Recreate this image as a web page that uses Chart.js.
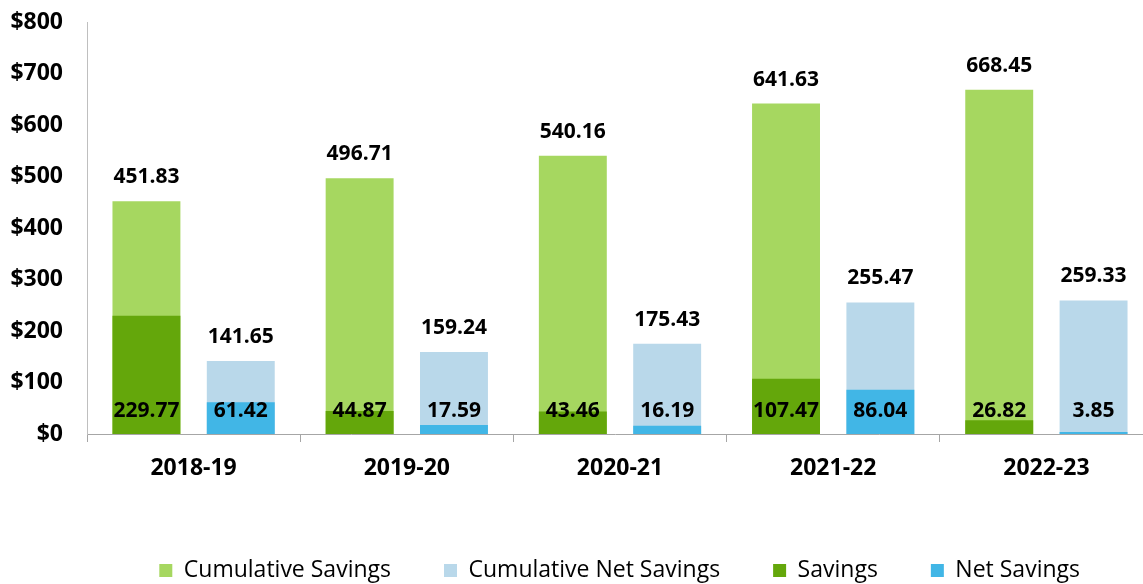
<!DOCTYPE html>
<html>
<head>
<meta charset="utf-8">
<script src="https://cdn.jsdelivr.net/npm/chart.js@4"></script>
<style>
  html, body { margin: 0; padding: 0; background: #fff; }
  #wrap { width: 1143px; height: 584px; }
</style>
</head>
<body>
<div id="wrap"><canvas id="myChart"></canvas></div>
<script>
var years = ['2018-19', '2019-20', '2020-21', '2021-22', '2022-23'];
var cumulativeSavings = [451.83, 496.71, 540.16, 641.63, 668.45];
var cumulativeNetSavings = [141.65, 159.24, 175.43, 255.47, 259.33];
var savings = [229.77, 44.87, 43.46, 107.47, 26.82];
var netSavings = [61.42, 17.59, 16.19, 86.04, 3.85];
var yTicks = [0, 100, 200, 300, 400, 500, 600, 700, 800];

var FONT = "'Open Sans', sans-serif";

// value labels: on top of the cumulative bars, near the base of the yearly bars
var valueLabels = {
  id: 'valueLabels',
  afterDatasetsDraw: function(chart) {
    var ctx = chart.ctx;
    ctx.save();
    ctx.font = 'bold 21px ' + FONT;
    ctx.fillStyle = '#000';
    ctx.textAlign = 'center';
    ctx.textBaseline = 'middle';
    chart.data.datasets.forEach(function(ds, i) {
      var meta = chart.getDatasetMeta(i);
      meta.data.forEach(function(bar, j) {
        var txt = ds.data[j].toFixed(2);
        var y = ds.onTop ? bar.y - 24 : bar.base - 23;
        ctx.fillText(txt, bar.x, y);
      });
    });
    ctx.restore();
  }
};

// the original plot area runs a little past the right edge of the picture,
// and its legend stops short of it
var layoutTweak = {
  id: 'layoutTweak',
  afterLayout: function(chart) {
    var x = chart.scales.x;
    x.right = 1153;
    x.width = x.right - x.left;
    x.configure();
    chart.chartArea.right = 1153;
    chart.chartArea.width = 1153 - chart.chartArea.left;
    if (chart.legend) chart.legend.right = 1133;
  }
};

var ctx = document.getElementById('myChart').getContext('2d');
var myChart = new Chart(ctx, {
  type: 'bar',
  data: {
    labels: years,
    datasets: [{
      label: 'Cumulative Savings',
      data: cumulativeSavings,
      backgroundColor: '#A6D760',
      stack: 'a',
      order: 1,
      onTop: true
    }, {
      label: 'Cumulative Net Savings',
      data: cumulativeNetSavings,
      backgroundColor: '#B9D8EA',
      stack: 'b',
      order: 1,
      onTop: true
    }, {
      label: 'Savings',
      data: savings,
      backgroundColor: '#64A70B',
      stack: 'a',
      order: 0
    }, {
      label: 'Net Savings',
      data: netSavings,
      backgroundColor: '#41B6E6',
      stack: 'b',
      order: 0
    }]
  },
  options: {
    responsive: true,
    maintainAspectRatio: false,
    animation: false,
    categoryPercentage: 0.885,
    barPercentage: 0.72,
    layout: {
      padding: { top: 22, right: 0, bottom: -8, left: 0 }
    },
    plugins: {
      tooltip: { enabled: false },
      legend: {
        position: 'bottom',
        align: 'end',
        labels: {
          boxWidth: 13,
          boxHeight: 13,
          padding: 53,
          color: '#000',
          font: { family: FONT, size: 23 },
          sort: function(a, b) { return a.datasetIndex - b.datasetIndex; }
        }
      }
    },
    scales: {
      x: {
        stacked: true,
        grid: {
          offset: true,
          drawOnChartArea: false,
          tickLength: 8,
          color: '#A6A6A6'
        },
        border: { color: '#A6A6A6' },
        ticks: {
          padding: 13,
          color: '#000',
          font: { family: FONT, size: 23, weight: 'bold' }
        },
        afterFit: function(scale) { scale.height = 72; }
      },
      y: {
        stacked: false,
        min: 0,
        max: 800,
        grid: { display: false, drawTicks: false },
        border: { display: true, color: '#BFBFBF' },
        afterBuildTicks: function(scale) {
          scale.ticks = yTicks.map(function(v) { return { value: v }; });
        },
        ticks: {
          padding: 24,
          color: '#000',
          font: { family: FONT, size: 23, weight: 'bold' },
          callback: function(v) { return '$' + v; }
        },
        afterFit: function(scale) {
          scale.width = 87;
          scale.paddingTop = 0;
        }
      }
    }
  },
  plugins: [valueLabels, layoutTweak]
});
</script>
</body>
</html>
